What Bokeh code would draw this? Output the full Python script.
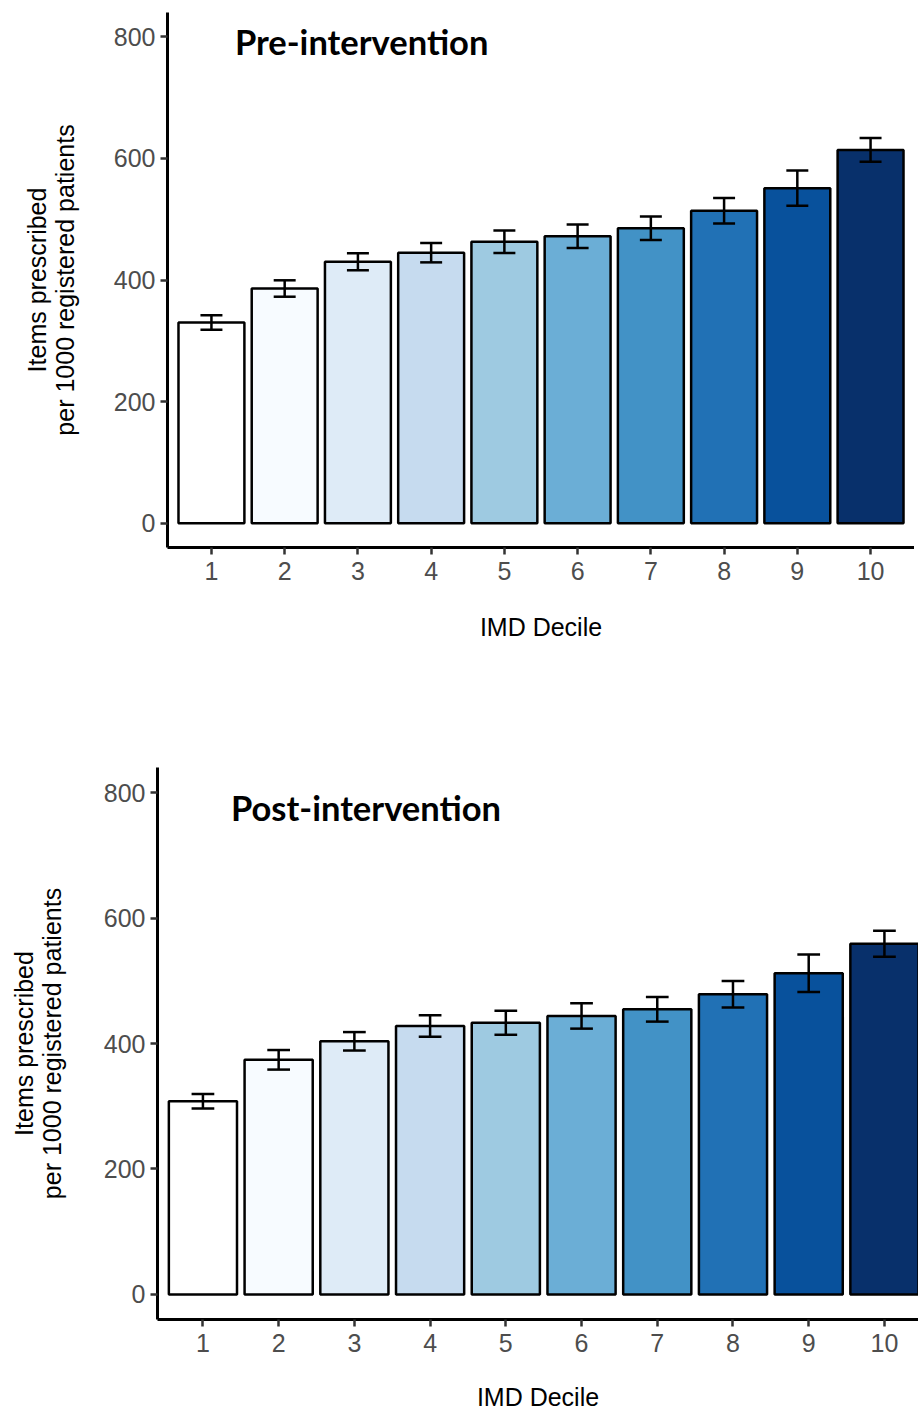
from bokeh.plotting import figure
from bokeh.models import Range1d, FixedTicker, Label, ColumnDataSource
from bokeh.embed import file_html
from bokeh.resources import INLINE

deciles = [1, 2, 3, 4, 5, 6, 7, 8, 9, 10]
y_ticks = [0, 200, 400, 600, 800]
pre_values = [330, 386, 430, 445, 463, 472, 485, 514, 551, 614]
pre_errors = [12, 13.5, 14, 16, 18.6, 19.3, 19.3, 21, 29, 19.5]
post_values = [308, 374, 403.5, 428, 433, 444, 454.5, 478.5, 512, 559]
post_errors = [11.6, 15.6, 14.7, 17.2, 19.1, 20.3, 19.6, 21.1, 30, 20.7]
bar_colors = ["#FFFFFF", "#F7FBFF", "#DEEBF7", "#C6DBEF", "#9ECAE1",
              "#6BAED6", "#4292C6", "#2171B5", "#08519C", "#08306B"]
y_label = "Items prescribed\nper 1000 registered patients"
x_label = "IMD Decile"


def make_panel(values, errors, title, width, height, mbl, mbt, mbb, x_end,
               title_x, title_y, label_standoff, ylabel_standoff):
    p = figure(width=width, height=height,
               x_range=Range1d(0.4, x_end), y_range=Range1d(-40, 840),
               output_backend="svg", toolbar_location=None,
               min_border_left=mbl, min_border_right=0,
               min_border_top=mbt, min_border_bottom=mbb,
               background_fill_color="white", border_fill_color="white")
    p.outline_line_color = None
    p.grid.visible = False

    lo = [v - e for v, e in zip(values, errors)]
    hi = [v + e for v, e in zip(values, errors)]
    src = ColumnDataSource(dict(x=deciles, top=values, color=bar_colors,
                                lo=lo, hi=hi,
                                cl=[d - 0.15 for d in deciles],
                                cr=[d + 0.15 for d in deciles]))
    p.vbar(x="x", top="top", bottom=0, width=0.9, source=src,
           fill_color="color", line_color="black", line_width=2.5)
    p.segment(x0="x", x1="x", y0="lo", y1="hi", source=src,
              line_color="black", line_width=2.5)
    p.segment(x0="cl", x1="cr", y0="lo", y1="lo", source=src,
              line_color="black", line_width=2.5)
    p.segment(x0="cl", x1="cr", y0="hi", y1="hi", source=src,
              line_color="black", line_width=2.5)

    for ax in (p.xaxis[0], p.yaxis[0]):
        ax.axis_line_color = "black"
        ax.axis_line_width = 3
        ax.major_tick_line_color = "#333333"
        ax.major_tick_line_width = 2.5
        ax.major_tick_out = 7
        ax.major_tick_in = 0
        ax.minor_tick_line_color = None
        ax.major_label_text_font = "Liberation Sans"
        ax.major_label_text_font_size = "25px"
        ax.major_label_text_color = "#4D4D4D"
        ax.axis_label_text_font = "Liberation Sans"
        ax.axis_label_text_font_size = "25px"
        ax.axis_label_text_font_style = "normal"
        ax.axis_label_text_color = "black"
        ax.axis_label_text_line_height = 1.0

    p.xaxis.major_label_standoff = 7
    p.yaxis.major_label_standoff = 5
    p.xaxis.ticker = FixedTicker(ticks=deciles)
    p.yaxis.ticker = FixedTicker(ticks=y_ticks)
    p.xaxis.axis_label = x_label
    p.yaxis.axis_label = y_label
    p.xaxis.axis_label_standoff = label_standoff
    p.yaxis.axis_label_standoff = ylabel_standoff

    p.add_layout(Label(x=title_x, y=title_y, text=title, text_font="Lato",
                       text_font_style="bold", text_font_size="34.5px",
                       text_color="black", text_baseline="alphabetic"))
    return p


p1 = make_panel(pre_values, pre_errors, "Pre-intervention", 914, 708,
                167, 12, 161, 10.6, 1.32, 793, 30, 32)
p2 = make_panel(post_values, post_errors, "Post-intervention", 918, 706,
                157, 59, 95, 10.45, 1.37, 777, 28, 35)

open("out.html", "w").write(file_html([p1, p2], INLINE))
